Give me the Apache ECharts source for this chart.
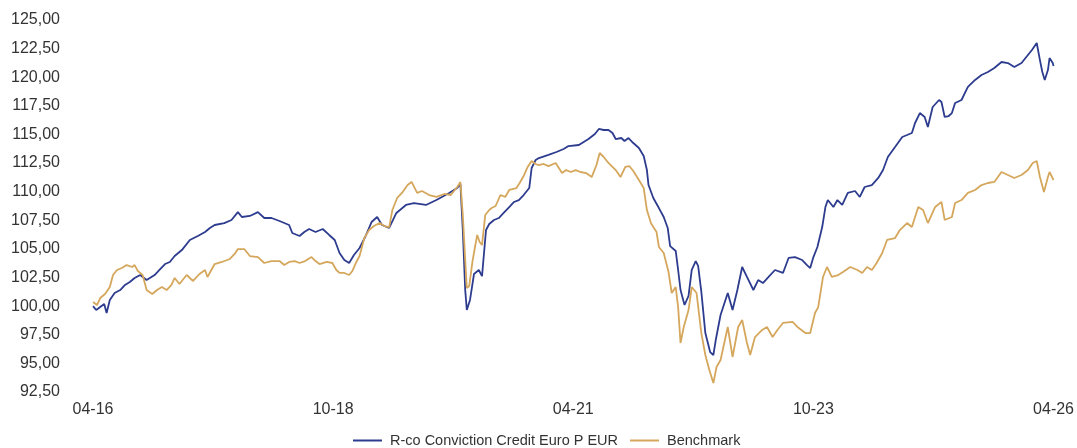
<!DOCTYPE html>
<html lang="fr">
<head>
    <meta charset="UTF-8">
    <title>R-co Conviction Credit Euro P EUR</title>
    <script src="https://cdn.jsdelivr.net/npm/echarts@6/dist/echarts.min.js"></script>
    <style>
        html, body { margin: 0; padding: 0; background: #fff; }
        #chart { width: 1077px; height: 448px; }
    </style>
</head>
<body>
<div id="chart"></div>
<script>
    // x = months since 04-2016
    var fundMonths = [0, 0.4, 0.9, 1.4, 1.7, 2.1, 2.7, 3.4, 4.0, 4.6, 5.2, 5.9, 6.7, 7.7, 8.3, 9.0, 9.6, 10.2, 11.1, 12.1,
        13.1, 14.0, 14.6, 15.2, 16.4, 17.3, 18.1, 18.6, 19.6, 20.6, 21.4, 22.3, 23.3, 24.5, 24.9, 25.8, 26.4, 27.0, 27.8, 28.7,
        29.5, 30.2, 30.8, 31.4, 32.0, 32.6, 33.3, 34.0, 34.8, 35.5, 36.1, 37.0, 37.9, 39.1, 40.1, 41.6, 42.9, 44.5, 45.5, 45.9,
        46.2, 46.5, 46.7, 47.1, 47.6, 48.2, 48.6, 49.1, 49.5, 50.1, 50.7, 51.3, 52.0, 52.6, 53.2, 53.8, 54.5, 54.8, 55.3, 55.7,
        56.9, 57.9, 58.8, 59.4, 60.7, 61.9, 62.7, 63.2, 63.8, 64.4, 64.9, 65.3, 66.0, 66.4, 66.9, 67.5, 68.2, 68.8, 69.2, 69.4,
        70.0, 70.7, 71.3, 71.8, 72.1, 72.8, 73.1, 73.4, 73.9, 74.4, 74.8, 75.3, 75.6, 76.0, 76.5, 77.1, 77.5, 77.8, 78.4, 79.3,
        79.9, 80.5, 81.1, 81.7, 82.5, 83.1, 83.7, 84.4, 85.2, 86.2, 86.9, 87.7, 88.6, 89.2, 89.6, 90.0, 90.5, 91.1, 91.5, 91.8,
        92.5, 93.0, 93.6, 94.3, 95.2, 95.8, 96.4, 97.3, 98.1, 98.7, 99.3, 100.2, 101.1, 101.7, 102.3, 102.7, 103.3, 103.9, 104.3, 104.9,
        105.7, 106.0, 106.4, 106.9, 107.3, 107.7, 108.5, 109.3, 110.2, 111.0, 111.8, 112.6, 113.5, 114.3, 115.1, 116.0, 116.6, 117.3, 117.9, 118.3,
        118.6, 118.9, 119.3, 119.5, 119.9, 120.0];
    var fundValues = [100.0, 99.66, 99.93, 100.19, 99.40, 100.54, 101.15, 101.41, 101.85, 102.11, 102.46, 102.72, 102.28, 102.72, 103.16, 103.68, 103.86, 104.38, 104.90, 105.78,
        106.13, 106.48, 106.83, 107.09, 107.26, 107.53, 108.22, 107.79, 107.88, 108.22, 107.70, 107.70, 107.44, 107.09, 106.39, 106.13, 106.48, 106.74, 106.48, 106.74,
        106.22, 105.78, 104.64, 104.03, 103.77, 104.47, 105.08, 106.04, 107.35, 107.79, 107.09, 106.83, 108.14, 108.84, 109.01, 108.84, 109.27, 109.89, 110.32, 110.67,
        106.65, 101.41, 99.66, 100.54, 102.81, 103.16, 102.63, 106.65, 107.18, 107.53, 107.70, 108.14, 108.66, 109.10, 109.27, 109.71, 110.32, 112.07, 112.77, 112.94,
        113.21, 113.47, 113.73, 113.99, 114.08, 114.60, 115.04, 115.48, 115.39, 115.39, 115.13, 114.60, 114.69, 114.43, 114.69, 114.25, 113.82, 113.12, 111.89, 110.58,
        109.45, 108.57, 107.79, 106.83, 105.25, 104.82, 103.16, 101.41, 100.10, 100.89, 103.16, 103.94, 103.51, 101.24, 97.65, 95.99, 95.73, 97.04, 99.23, 101.15,
        99.66, 101.41, 103.42, 102.55, 101.41, 102.28, 102.02, 102.55, 103.16, 102.90, 104.21, 104.29, 104.03, 103.59, 103.33, 104.29, 105.17, 106.91, 108.66, 109.27,
        108.66, 109.27, 108.84, 109.89, 110.06, 109.54, 110.41, 110.58, 111.20, 111.89, 113.03, 113.90, 114.78, 114.95, 115.13, 116.00, 116.87, 116.53, 115.65, 117.40,
        118.01, 117.84, 116.53, 116.61, 116.87, 117.75, 118.01, 119.15, 119.76, 120.19, 120.46, 120.81, 121.33, 121.24, 120.89, 121.24, 121.77, 122.38, 122.99, 121.50,
        120.46, 119.76, 120.63, 121.68, 121.24, 120.98];

    var benchMonths = [0, 0.5, 0.9, 1.5, 2.1, 2.5, 3.0, 3.6, 4.2, 4.9, 5.2, 5.6, 6.2, 6.7, 7.4, 8.0, 8.6, 9.2, 9.8, 10.2,
        10.8, 11.7, 12.5, 13.3, 14.0, 14.3, 15.2, 16.1, 17.1, 17.7, 18.1, 18.9, 19.6, 20.6, 21.4, 22.3, 23.3, 23.9, 24.5, 25.2,
        25.8, 26.5, 27.3, 27.8, 28.3, 29.2, 29.9, 30.4, 30.8, 31.4, 32.0, 32.4, 32.9, 33.3, 33.9, 34.5, 35.1, 35.8, 36.4, 37.0,
        37.4, 38.0, 38.6, 39.3, 39.8, 40.5, 41.1, 42.0, 42.9, 43.9, 44.7, 45.5, 45.9, 46.2, 46.5, 46.7, 47.0, 47.4, 47.7, 48.0,
        48.3, 48.6, 49.0, 49.5, 49.8, 50.3, 50.9, 51.5, 52.0, 52.9, 53.3, 53.8, 54.3, 54.8, 55.3, 55.7, 56.3, 56.9, 57.8, 58.6,
        59.1, 59.7, 60.3, 60.9, 61.6, 62.3, 62.9, 63.3, 63.8, 64.4, 65.3, 65.9, 66.5, 67.0, 67.5, 68.2, 68.8, 69.2, 69.7, 70.0,
        70.4, 70.7, 71.3, 71.9, 72.3, 72.8, 73.1, 73.4, 73.8, 74.4, 74.8, 75.4, 76.0, 76.5, 77.0, 77.5, 77.9, 78.4, 79.3, 79.9,
        80.6, 81.1, 81.7, 82.1, 82.7, 83.6, 84.2, 84.9, 85.5, 86.2, 87.4, 88.0, 89.0, 89.6, 90.2, 90.6, 91.2, 91.7, 92.3, 93.1,
        93.7, 94.6, 95.5, 96.1, 96.7, 97.3, 97.9, 98.6, 99.2, 100.2, 100.8, 101.7, 102.3, 103.1, 103.7, 104.3, 105.2, 106.0, 106.4, 107.3,
        107.7, 108.5, 109.3, 110.2, 111.0, 111.8, 112.6, 113.5, 114.3, 115.1, 116.0, 116.8, 117.4, 117.9, 118.3, 118.8, 119.3, 119.5, 120.0];
    var benchValues = [100.36, 100.10, 100.71, 101.06, 101.67, 102.72, 103.16, 103.33, 103.59, 103.42, 103.59, 103.07, 102.72, 101.41, 101.06, 101.41, 101.67, 101.41, 101.85, 102.46,
        101.93, 102.72, 102.20, 102.81, 103.16, 102.55, 103.68, 103.86, 104.12, 104.56, 104.99, 104.99, 104.38, 104.29, 103.77, 103.94, 103.94, 103.59, 103.86, 103.94,
        103.77, 103.94, 104.29, 103.94, 103.68, 103.86, 103.77, 103.16, 102.90, 102.90, 102.72, 103.07, 103.86, 104.38, 105.95, 106.65, 107.00, 107.26, 107.00, 106.91,
        108.40, 109.45, 109.89, 110.58, 110.85, 109.89, 110.06, 109.71, 109.54, 109.80, 109.71, 110.41, 110.85, 107.96, 104.03, 101.59, 101.76, 103.86, 105.08, 106.22,
        105.60, 105.34, 107.96, 108.40, 108.57, 108.75, 109.71, 109.54, 110.15, 110.32, 110.76, 111.37, 112.16, 112.68, 112.42, 112.33, 112.42, 112.24, 112.51, 111.63,
        111.89, 111.72, 111.89, 111.72, 111.63, 111.28, 112.33, 113.38, 113.03, 112.51, 111.89, 111.28, 112.16, 112.24, 111.81, 111.02, 110.32, 108.40, 107.26, 106.91,
        106.48, 105.17, 104.64, 102.98, 101.15, 101.67, 99.92, 96.78, 98.18, 99.66, 101.67, 101.15, 97.65, 95.73, 94.42, 93.28, 94.68, 95.29, 98.18, 95.56,
        98.18, 98.79, 96.78, 95.73, 97.30, 97.92, 98.18, 97.30, 97.92, 98.53, 98.62, 98.18, 97.65, 97.65, 99.40, 99.92, 102.55, 103.42, 102.55, 102.72,
        102.98, 103.42, 103.16, 102.90, 103.42, 103.16, 103.77, 104.64, 105.78, 105.95, 106.65, 107.26, 106.91, 108.66, 108.40, 107.26, 108.66, 109.10, 107.53, 107.79,
        109.01, 109.27, 109.89, 110.15, 110.58, 110.76, 110.85, 111.72, 111.46, 111.20, 111.46, 111.89, 112.51, 112.68, 111.28, 109.97, 111.28, 111.72, 111.02];

    var seriesNames = ['R-co Conviction Credit Euro P EUR', 'Benchmark'];
    var seriesColors = ['#2d3c8e', '#d5a75c'];

    function pairs(xs, ys) {
        var out = [];
        for (var i = 0; i < xs.length; i++) out.push([xs[i], ys[i]]);
        return out;
    }

    function monthLabel(m) {
        var t = 3 + Math.round(m);
        var mm = t % 12 + 1;
        var yy = 16 + Math.floor(t / 12);
        return (mm < 10 ? '0' + mm : '' + mm) + '-' + yy;
    }

    var chart = echarts.init(document.getElementById('chart'));
    chart.setOption({
        animation: false,
        textStyle: {fontFamily: 'Liberation Sans, Arial, sans-serif'},
        grid: {left: 93, right: 21, top: 20, bottom: 56},
        legend: {
            left: 353,
            top: 433,
            padding: 0,
            icon: 'rect',
            itemWidth: 29,
            itemHeight: 2,
            itemGap: 12,
            textStyle: {fontSize: 14.5, color: '#333', padding: [0, 0, 0, 3]},
            data: seriesNames
        },
        xAxis: {
            type: 'value',
            min: 0,
            max: 120,
            interval: 30,
            axisLine: {show: false},
            axisTick: {show: false},
            splitLine: {show: false},
            axisLabel: {
                fontSize: 16,
                color: '#333',
                margin: 10,
                formatter: monthLabel
            }
        },
        yAxis: {
            type: 'value',
            min: 92.5,
            max: 125,
            interval: 2.5,
            axisLine: {show: false},
            axisTick: {show: false},
            splitLine: {show: false},
            axisLabel: {
                fontSize: 16,
                color: '#333',
                margin: 33,
                formatter: function (v) {
                    return v.toFixed(2).replace('.', ',');
                }
            }
        },
        series: [
            {
                name: seriesNames[0],
                type: 'line',
                showSymbol: false,
                data: pairs(fundMonths, fundValues),
                lineStyle: {width: 1.8, color: seriesColors[0]},
                itemStyle: {color: seriesColors[0]}
            },
            {
                name: seriesNames[1],
                type: 'line',
                showSymbol: false,
                data: pairs(benchMonths, benchValues),
                lineStyle: {width: 1.8, color: seriesColors[1]},
                itemStyle: {color: seriesColors[1]}
            }
        ]
    });
</script>
</body>
</html>
